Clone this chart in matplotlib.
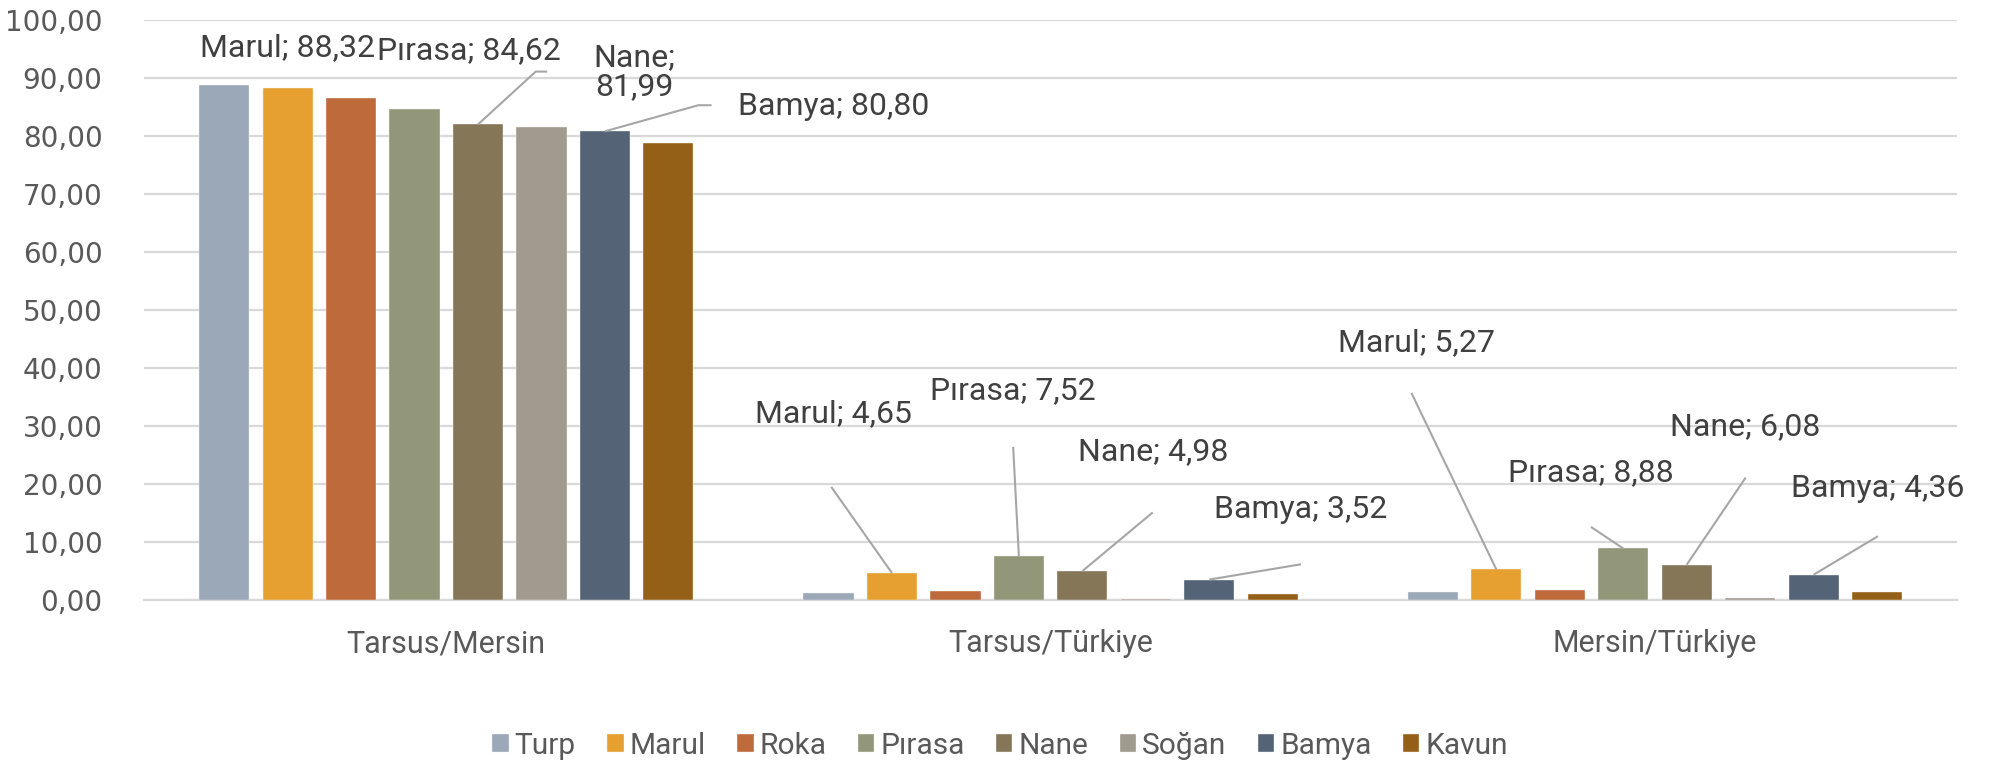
import numpy as np
import matplotlib
matplotlib.use("Agg")
import matplotlib.pyplot as plt
from matplotlib.ticker import FuncFormatter, MultipleLocator

# ---- data ---------------------------------------------------------------
groups = ["Tarsus/Mersin", "Tarsus/Türkiye", "Mersin/Türkiye"]
series = ["Turp", "Marul", "Roka", "Pırasa", "Nane", "Soğan", "Bamya", "Kavun"]

turp  = [88.78, 1.18, 1.33]
marul = [88.32, 4.65, 5.27]
roka  = [86.59, 1.48, 1.70]
pirasa = [84.62, 7.52, 8.88]
nane  = [81.99, 4.98, 6.08]
sogan = [81.50, 0.22, 0.28]
bamya = [80.80, 3.52, 4.36]
kavun = [78.72, 1.04, 1.32]
values = [turp, marul, roka, pirasa, nane, sogan, bamya, kavun]

colors = ["#9BA8B7", "#E6A02F", "#BF6A3B", "#92977A",
          "#857658", "#A19A8E", "#546375", "#945F16"]

# ---- data label placement (text centre, leader bend points, leader target bar)
# (series, group, text_x, text_y, bend points, target series)
label_layout = [
    (1, 0, -0.263, 95.2, [], None),
    (3, 0, 0.038, 94.7, [(0.167, 91.1), (0.148, 91.1)], 4),
    (4, 0, 0.312, 91.0, [], None),
    (6, 0, 0.641, 85.1, [(0.439, 85.3), (0.417, 85.3)], 6),
    (1, 1, 0.640, 32.1, [(0.637, 19.5)], 1),
    (3, 1, 0.937, 36.1, [(0.938, 26.4)], 3),
    (4, 1, 1.169, 25.5, [(1.169, 15.1)], 4),
    (6, 1, 1.414, 15.6, [(1.414, 6.15)], 6),
    (1, 2, 1.605, 44.3, [(1.597, 35.7)], 1),
    (3, 2, 1.894, 22.0, [(1.894, 12.6)], 3),
    (4, 2, 2.150, 29.9, [(2.150, 21.1)], 4),
    (6, 2, 2.369, 19.25, [(2.369, 11.0)], 6),
]

SLOT = 0.105      # distance between bars inside a group
BAR_W = 0.083     # bar width in category units
GRID = "#D9D9D9"
LEADER = "#A6A6A6"
LABEL_COL = "#404040"
TICK_COL = "#595959"

def fmt(v):
    return f"{v:.2f}".replace(".", ",")

fig = plt.figure(figsize=(19.9, 7.65), dpi=100)
ax = fig.add_axes([0.0724, 0.2157, 0.9111, 0.7582])

x = np.arange(len(groups))
n = len(series)
for i, (name, vals, col) in enumerate(zip(series, values, colors)):
    ax.bar(x + (i - (n - 1) / 2) * SLOT, vals, width=BAR_W, color=col,
           edgecolor="#F2F2F2", linewidth=0.3, label=name, zorder=3)

for s, g, tx, ty, bends, target in label_layout:
    name = series[s]
    text = f"{name}; {fmt(values[s][g])}"
    if s == 4 and g == 0:
        text = f"{name};\n{fmt(values[s][g])}"
    ax.text(tx, ty, text, ha="center", va="center", fontsize=23,
            color=LABEL_COL, family="Roboto", zorder=5,
            linespacing=1.0)
    if target is not None:
        bx = x[g] + (target - (n - 1) / 2) * SLOT
        by = values[target][g]
        pts = bends + [(bx, by)]
        ax.plot([p[0] for p in pts], [p[1] for p in pts], color=LEADER,
                lw=1.5, zorder=4, solid_capstyle="butt")

ax.set_xlim(-0.5, len(groups) - 0.5)
ax.set_ylim(0, 100)
ax.yaxis.set_major_locator(MultipleLocator(10))
ax.yaxis.set_major_formatter(FuncFormatter(lambda v, p: fmt(v)))
ax.grid(axis="y", color=GRID, lw=1.6, zorder=0)
ax.set_axisbelow(True)
for sp in ["left", "right", "top"]:
    ax.spines[sp].set_visible(False)
ax.spines["bottom"].set_color(GRID)
ax.spines["bottom"].set_linewidth(1.6)

ax.set_xticks(x)
ax.set_xticklabels(groups, family="Roboto", fontsize=22, color=TICK_COL)
ax.tick_params(axis="x", length=0, pad=21)
ax.tick_params(axis="y", length=0, pad=30, labelsize=20, labelcolor=TICK_COL)
for lab in ax.get_yticklabels():
    lab.set_family("DejaVu Sans")

leg = fig.legend(loc="center", bbox_to_anchor=(0.5025, 0.025), ncol=n,
                 frameon=False, prop={"family": "Roboto", "size": 21.5},
                 handlelength=0.55, handleheight=0.55, handletextpad=0.2,
                 columnspacing=1.05, labelcolor=TICK_COL)

fig.savefig("out.png", dpi=100)
